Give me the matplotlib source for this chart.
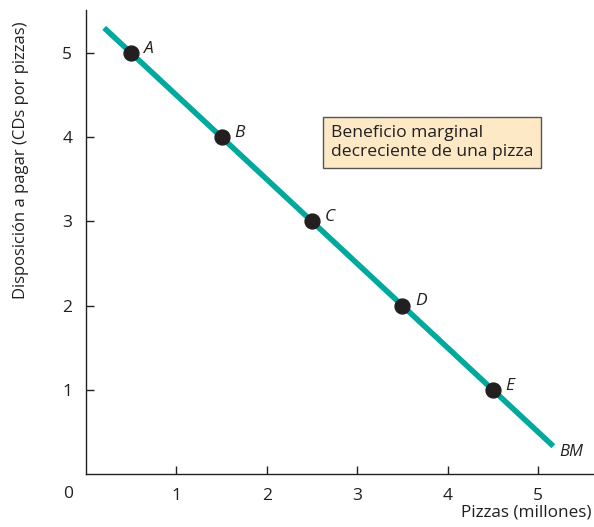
import numpy as np
import matplotlib
matplotlib.use('Agg')
import matplotlib.pyplot as plt

plt.rcParams['font.family'] = ['Open Sans', 'DejaVu Sans']

# data
bm_x = [0.2, 5.17]
bm_y = [5.3, 0.33]
pts_x = [0.5, 1.5, 2.5, 3.5, 4.5]
pts_y = [5, 4, 3, 2, 1]
pts_lab = ['A', 'B', 'C', 'D', 'E']
xticks = [1, 2, 3, 4, 5]
yticks = [1, 2, 3, 4, 5]

teal = '#00a99d'
dark = '#231f20'

fig = plt.figure(figsize=(5.94, 5.27), dpi=100)
ax = fig.add_axes([0.145, 0.1006, 0.855, 0.880])

ax.plot(bm_x, bm_y, color=teal, lw=4, solid_capstyle='butt', zorder=2)
ax.scatter(pts_x, pts_y, s=115, color=dark, zorder=3)
for x, y, l in zip(pts_x, pts_y, pts_lab):
    ax.text(x + 0.14, y + 0.05, l, fontsize=12.5, style='italic', color=dark,
            ha='left', va='center')
ax.text(5.24, 0.26, 'BM', fontsize=12, style='italic', color=dark, ha='left', va='center')

ax.text(2.71, 3.94, 'Beneficio marginal\ndecreciente de una pizza', fontsize=12.6,
        color=dark, ha='left', va='center', linespacing=1.3,
        bbox=dict(boxstyle='square,pad=0.45', fc='#fde9c6', ec='#555555', lw=1))

ax.set_xlim(0, 5.62)
ax.set_ylim(0, 5.51)
ax.set_xticks(xticks)
ax.set_yticks(yticks)
ax.tick_params(direction='in', length=6, width=1, labelsize=12.5, colors=dark, pad=10)
for s in ['top', 'right']:
    ax.spines[s].set_visible(False)
for s in ['left', 'bottom']:
    ax.spines[s].set_color(dark)
    ax.spines[s].set_linewidth(1)

ax.text(-0.2, -0.24, '0', fontsize=12.5, color=dark, ha='center', va='center',
        transform=ax.transData, clip_on=False)
ax.text(0.995, -0.084, 'Pizzas (millones)', fontsize=12.3, color=dark, ha='right',
        va='center', transform=ax.transAxes)
fig.text(0.036, 0.696, 'Disposición a pagar (CDs por pizzas)', fontsize=12, color=dark,
         rotation=90, ha='center', va='center')

fig.savefig('out.png', dpi=100)
